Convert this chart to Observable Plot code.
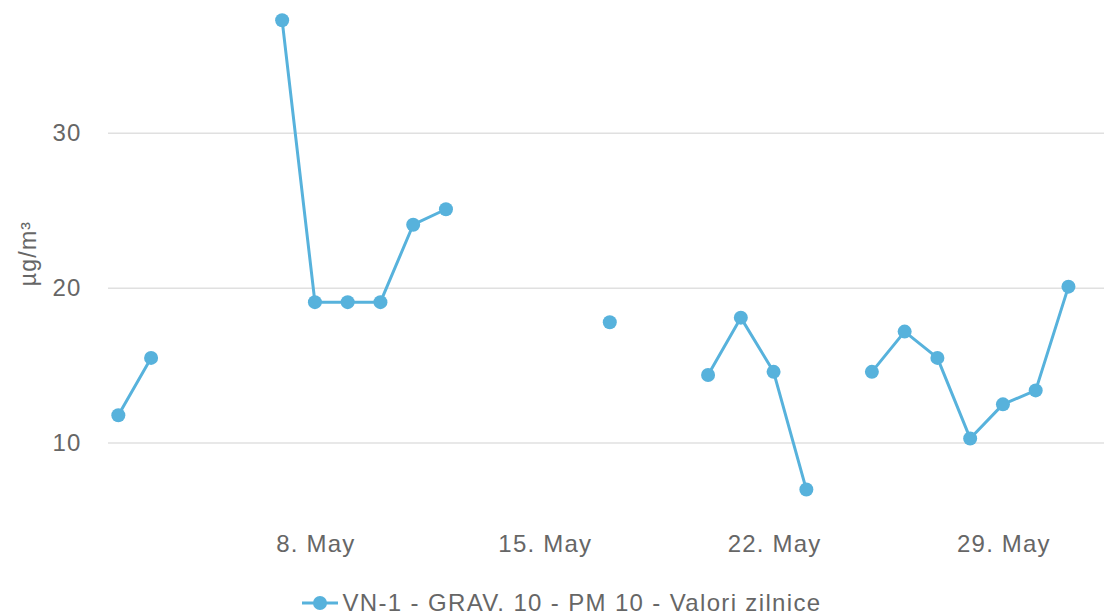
<!DOCTYPE html>
<html>
<head>
<meta charset="utf-8">
<script src="https://cdn.jsdelivr.net/npm/d3@7"></script>
<script src="https://cdn.jsdelivr.net/npm/@observablehq/plot@0.6"></script>
<style>
  html, body { margin: 0; padding: 0; background: #fff; width: 1104px; height: 615px; overflow: hidden; }
  body { position: relative; font-family: "Liberation Sans", Arial, sans-serif; }
  #legend { position: absolute; top: 586px; left: 10px; width: 1104px; text-align: center; font-size: 24px; letter-spacing: 1.35px; color: #666; line-height: 34px; }
  #legend svg { vertical-align: middle; margin-right: 4px; position: relative; top: -2px; }
</style>
</head>
<body>
<div id="chart"></div>
<div id="legend"></div>
<script>
const dates = ["2024-05-01","2024-05-02","2024-05-03","2024-05-04","2024-05-05","2024-05-06","2024-05-07","2024-05-08","2024-05-09","2024-05-10","2024-05-11","2024-05-12","2024-05-13","2024-05-14","2024-05-15","2024-05-16","2024-05-17","2024-05-18","2024-05-19","2024-05-20","2024-05-21","2024-05-22","2024-05-23","2024-05-24","2024-05-25","2024-05-26","2024-05-27","2024-05-28","2024-05-29","2024-05-30","2024-05-31"];
const values = [null,11.8,15.5,null,null,null,37.3,19.1,19.1,19.1,24.1,25.1,null,null,null,null,17.8,null,null,14.4,18.1,14.6,7.0,null,14.6,17.2,15.5,10.3,12.5,13.4,20.1];
const yTicks = [10, 20, 30];
const xTicks = ["2024-05-08","2024-05-15","2024-05-22","2024-05-29"];
const seriesName = "VN-1 - GRAV. 10 - PM 10 - Valori zilnice";
const yLabel = "µg/m³";
const color = "#57b2dc";

const data = dates.map((d, i) => ({date: new Date(d), value: values[i]}));
const day = 864e5;
const x0 = new Date(new Date("2024-05-01").getTime() + 0.7 * day);
const x1 = new Date(new Date("2024-06-01").getTime() + 0.1 * day);

const chart = Plot.plot({
  width: 1104,
  height: 565,
  marginLeft: 108,
  marginRight: 0,
  marginTop: 0,
  marginBottom: 45,
  style: {fontFamily: "Liberation Sans, Arial, sans-serif", fontSize: "24px", color: "#666", letterSpacing: "1.2px", overflow: "visible"},
  x: {type: "utc", domain: [x0, x1]},
  y: {domain: [5, 38.58]},
  marks: [
    Plot.gridY(yTicks, {stroke: "#e0e0e0", strokeOpacity: 1, strokeWidth: 1.5}),
    Plot.axisY(yTicks, {tickSize: 0, tickPadding: 27, label: null, fill: "#666", fontSize: 24}),
    Plot.axisX(xTicks.map(d => new Date(d)), {tickSize: 0, tickPadding: 14, label: null, tickFormat: d3.utcFormat("%-d. %b"), fill: "#666", fontSize: 24, dx: 1}),
    Plot.text([yLabel], {frameAnchor: "left", textAnchor: "middle", dx: -80, dy: -7, rotate: -90, fill: "#666", fontSize: 23, letterSpacing: "0px"}),
    Plot.line(data, {x: "date", y: "value", stroke: color, strokeWidth: 3}),
    Plot.dot(data.filter(d => d.value != null), {x: "date", y: "value", r: 7, fill: color, stroke: "none"})
  ]
});
document.getElementById("chart").appendChild(chart);

const leg = document.getElementById("legend");
leg.innerHTML = `<svg width="36" height="16"><line x1="0" y1="8" x2="36" y2="8" stroke="${color}" stroke-width="3"/><circle cx="18" cy="8" r="7" fill="${color}"/></svg>`;
leg.appendChild(document.createTextNode(seriesName));
</script>
</body>
</html>
